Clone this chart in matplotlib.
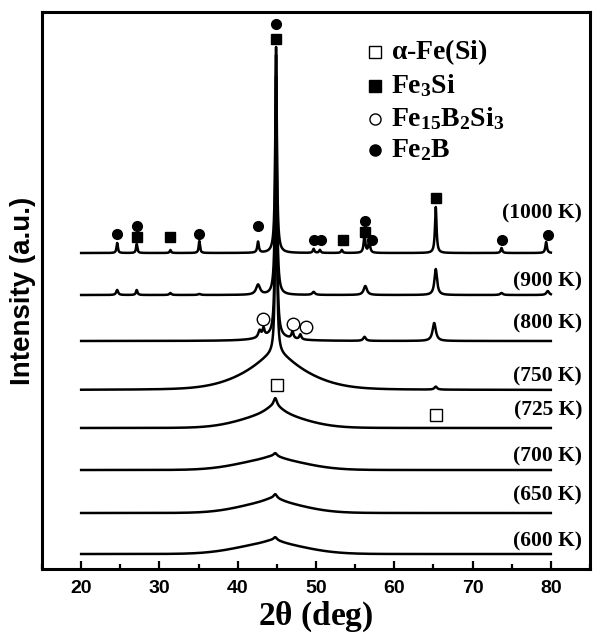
import numpy as np
import matplotlib
matplotlib.use('Agg')
import matplotlib.pyplot as plt
from matplotlib.ticker import MultipleLocator

plt.rcParams['mathtext.fontset'] = 'custom'
plt.rcParams['mathtext.rm'] = 'Liberation Serif:bold'
plt.rcParams['mathtext.it'] = 'Liberation Serif:bold'
plt.rcParams['mathtext.bf'] = 'Liberation Serif:bold'

# annealing temperatures, bottom to top, and vertical offset of each pattern
temps = ['(600 K)', '(650 K)', '(700 K)', '(725 K)', '(750 K)', '(800 K)', '(900 K)', '(1000 K)']
offsets = [15, 56, 99, 141, 179, 228, 274, 316]
label_y = [28, 74, 113, 159, 193, 246, 288, 356]

# sharp peaks per pattern: (2theta, height, half width)
sharp = [
    [(44.6, 4, 1.5), (44.8, 3, 0.25)],
    [(44.6, 5, 1.5), (44.8, 4, 0.25)],
    [(44.6, 4, 1.5), (44.8, 3, 0.25)],
    [(44.7, 10, 1.5), (44.8, 8, 0.25)],
    [(44.9, 20, 3.0), (44.9, 230, 0.12), (65.3, 3, 0.2)],
    [(44.5, 5, 2.0), (42.8, 7, 0.2), (43.3, 8, 0.15), (44.9, 260, 0.12),
     (47.0, 7, 0.15), (48.0, 5, 0.15), (56.2, 4, 0.2), (65.1, 18, 0.25)],
    [(24.6, 5, 0.15), (27.1, 5, 0.12), (31.4, 2, 0.15), (35.1, 1, 0.2),
     (42.6, 10, 0.3), (44.9, 240, 0.12), (49.7, 3, 0.2), (56.3, 9, 0.25),
     (65.3, 26, 0.2), (73.7, 2, 0.2), (79.6, 4, 0.2)],
    [(24.6, 10, 0.1), (27.1, 9, 0.1), (31.4, 3, 0.1), (35.1, 12, 0.1),
     (42.6, 11, 0.12), (44.9, 206, 0.12), (49.7, 4, 0.12), (50.5, 3, 0.12),
     (53.3, 3, 0.12), (56.2, 19, 0.12), (56.8, 13, 0.12), (65.3, 46, 0.12),
     (73.7, 5, 0.12), (79.4, 11, 0.12)],
]
# amorphous humps: (2theta, height, sigma)
broad = [
    [(44.3, 10, 4.3)],
    [(44.4, 10, 4.0)],
    [(44.4, 10, 4.2)],
    [(44.5, 12, 4.0)],
    [(44.9, 16, 4.5)],
    [], [], [],
]

# phase markers: (2theta, height)
fe_si = [(45.0, 184), (65.3, 154)]
fe3si = [(27.1, 332), (31.4, 332), (44.9, 530), (53.4, 329), (56.2, 337), (65.3, 371)]
fe15b2si3 = [(43.2, 250), (47.0, 245), (48.7, 242)]
fe2b = [(24.6, 335), (27.1, 343), (35.1, 335), (42.6, 343), (44.9, 545), (49.7, 329),
        (50.7, 329), (56.2, 348), (57.1, 329), (73.8, 329), (79.6, 334)]

two_theta = np.linspace(20, 80, 3001)

fig = plt.figure(figsize=(6.0, 6.35), dpi=100)
ax = fig.add_axes([0.07, 0.1039, 0.9133, 0.8772])

for k in range(len(temps)):
    y = np.full_like(two_theta, offsets[k], dtype=float)
    for c, h, w in sharp[k]:
        y += h / (1 + ((two_theta - c) / w) ** 2)
    for c, h, s in broad[k]:
        y += h * np.exp(-(two_theta - c) ** 2 / (2 * s ** 2))
    ax.plot(two_theta, y, color='black', lw=1.8)
    ax.text(84.0, label_y[k], temps[k], ha='right', va='center',
            fontsize=15.5, fontweight='bold', family='Liberation Serif')

def put(pts, marker, filled, size):
    xs = [p[0] for p in pts]
    ys = [p[1] for p in pts]
    ax.plot(xs, ys, ls='none', marker=marker, ms=size, mew=1.0,
            mec='black', mfc='black' if filled else 'white')

put(fe_si, 's', False, 9)
put(fe3si, 's', True, 7.5)
put(fe15b2si3, 'o', False, 9)
put(fe2b, 'o', True, 7)

# legend
leg_names = [r'$\alpha$-Fe(Si)', r'Fe$_3$Si', r'Fe$_{15}$B$_2$Si$_3$', r'Fe$_2$B']
leg_marker = ['s', 's', 'o', 'o']
leg_fill = [False, True, False, True]
leg_y = [517, 483, 450, 419]
for name, m, f, yy in zip(leg_names, leg_marker, leg_fill, leg_y):
    ax.plot([57.6], [yy], ls='none', marker=m, ms=8, mew=1.0, mec='black',
            mfc='black' if f else 'white')
    ax.text(59.6, yy, name, ha='left', va='center', fontsize=20,
            fontweight='bold', family='Liberation Serif')

ax.set_xlim(15, 85)
ax.set_ylim(0, 557)
ax.xaxis.set_minor_locator(MultipleLocator(5))
ax.set_xticks([20, 30, 40, 50, 60, 70, 80])
ax.set_yticks([])
ax.tick_params(axis='x', which='major', direction='in', length=6, width=1.6,
               pad=8, labelsize=14)
ax.tick_params(axis='x', which='minor', direction='in', length=3.5, width=1.6)
for lab in ax.get_xticklabels():
    lab.set_fontweight('bold')
    lab.set_family('Liberation Sans')
for sp in ax.spines.values():
    sp.set_linewidth(2.2)

ax.set_xlabel(r'2$\theta$ (deg)', fontsize=24, fontweight='bold',
              family='Liberation Serif', labelpad=2)
ax.set_ylabel('Intensity (a.u.)', fontsize=20, fontweight='bold',
              family='Liberation Sans', labelpad=4)

fig.savefig('out.png', dpi=100)
